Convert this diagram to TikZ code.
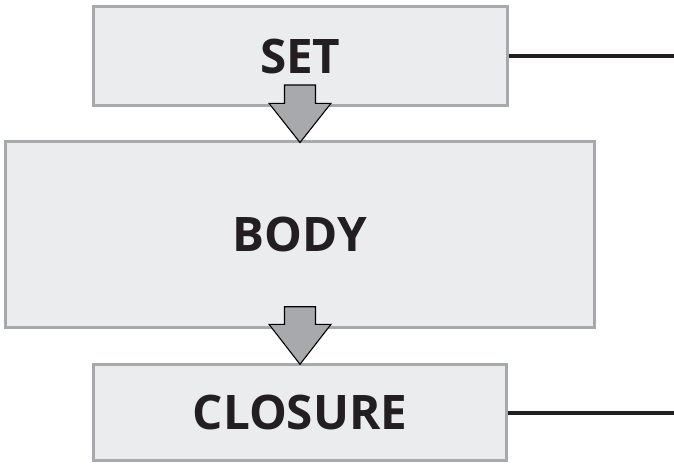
\documentclass[tikz,border=0pt]{standalone}
\usepackage{fontspec}
\setmainfont{Open Sans}
\usetikzlibrary{calc}
\definecolor{boxfill}{HTML}{EBECEE}
\definecolor{boxline}{HTML}{A7A9AC}
\definecolor{arrowfill}{HTML}{A7A9AC}
\definecolor{ink}{HTML}{231F20}
\begin{document}
\begin{tikzpicture}[x=1pt,y=-1pt,
  stagebox/.style={draw=boxline, line width=3pt, fill=boxfill, rectangle, inner sep=0pt,
    font=\fontsize{47.6}{50}\selectfont\bfseries, text=ink},
  blockarrow/.style={draw=black, line width=1.1pt, fill=arrowfill, line join=miter},
  sideline/.style={draw=ink, line width=3.2pt}]
\useasboundingbox (0,0) rectangle (674,463);
\node[stagebox, minimum width=413.5pt, minimum height=99pt] (set) at (300.25,56) {SET};
\node[stagebox, minimum width=589pt, minimum height=186pt] (body) at (300,234.5) {BODY};
\node[stagebox, minimum width=413pt, minimum height=96.3pt] (closure) at (300,412.3) {CLOSURE};
\coordinate (setend) at (674,56);
\coordinate (closend) at (674,413);
\draw[sideline] (set.east |- setend) -- (setend);
\draw[sideline] (closure.east |- closend) -- (closend);
% block arrows: tip coordinates
\coordinate (tip1) at (300,142.5);
\coordinate (tip2) at (300,364.3);
\draw[blockarrow] ($(tip1)+(-15.5,-57.5)$) -- ($(tip1)+(-15.5,-39.2)$) -- ($(tip1)+(-31,-39.2)$) -- (tip1)
  -- ($(tip1)+(31,-39.2)$) -- ($(tip1)+(15.5,-39.2)$) -- ($(tip1)+(15.5,-57.5)$) -- cycle;
\draw[blockarrow] ($(tip2)+(-15.5,-57.6)$) -- ($(tip2)+(-15.5,-40)$) -- ($(tip2)+(-31,-40)$) -- (tip2)
  -- ($(tip2)+(31,-40)$) -- ($(tip2)+(15.5,-40)$) -- ($(tip2)+(15.5,-57.6)$) -- cycle;
\end{tikzpicture}
\end{document}
